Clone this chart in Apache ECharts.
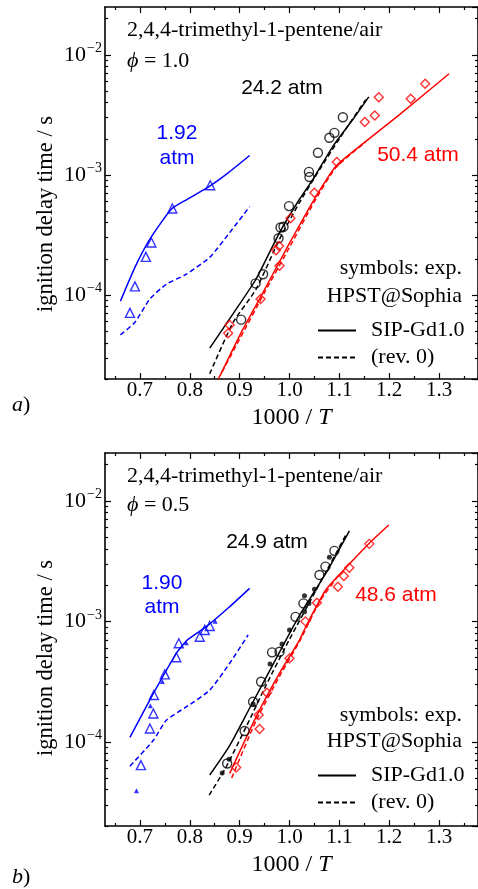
<!DOCTYPE html>
<html><head><meta charset="utf-8">
<script src="https://cdn.jsdelivr.net/npm/echarts@6/dist/echarts.min.js"></script>
<style>html,body{margin:0;padding:0;background:#fff}#c{width:478px;height:889px}</style>
</head><body><div id="c"></div>
<script>
// ---------- axis ticks ----------
const X_MAJOR = [0.7, 0.8, 0.9, 1.0, 1.1, 1.2, 1.3];
const X_MINOR = [0.65, 0.75, 0.85, 0.95, 1.05, 1.15, 1.25, 1.35];
const X_MIN = 0.63, X_MAX = 1.378;
const Y_MIN = 2e-5, Y_MAX = 0.025;

// ---------- panel a) phi = 1.0 : [1000/T, ignition delay time / s] ----------
const A_BLUE_SIP   = [[0.661,8.9e-5],[0.69,1.7e-4],[0.72,2.92e-4],[0.763,5.18e-4],[0.795,6.27e-4],[0.84,8.07e-4],[0.877,1.04e-3],[0.92,1.45e-3]];
const A_BLUE_REV0  = [[0.661,4.66e-5],[0.69,5.93e-5],[0.72,9.27e-5],[0.753,1.23e-4],[0.793,1.49e-4],[0.84,2.06e-4],[0.88,3.31e-4],[0.92,5.44e-4]];
const A_BLUE_EXP   = [[0.68,7.1e-5],[0.69,1.18e-4],[0.712,2.08e-4],[0.723,2.74e-4],[0.765,5.25e-4],[0.841,8.2e-4]];
const A_BLACK_SIP  = [[0.84,3.61e-5],[0.887,7.0e-5],[0.933,1.36e-4],[0.98,3.31e-4],[1.02,6.27e-4],[1.047,9.19e-4],[1.087,1.73e-3],[1.127,2.89e-3],[1.159,4.46e-3]];
const A_BLACK_REV0 = [[0.84,2.21e-5],[0.887,5.93e-5],[0.933,1.12e-4],[0.98,2.92e-4],[1.02,5.89e-4],[1.06,1.1e-3],[1.1,2.0e-3],[1.153,4.24e-3]];
const A_BLACK_EXP  = [[0.903,6.24e-5],[0.932,1.25e-4],[0.947,1.49e-4],[0.978,2.97e-4],[0.982,3.65e-4],[0.988,3.7e-4],[0.999,5.5e-4],[1.039,1.06e-3],[1.04,9.6e-4],[1.057,1.53e-3],[1.08,2.04e-3],[1.09,2.24e-3],[1.107,3.02e-3]];
const A_RED_SIP    = [[0.861,2.14e-5],[0.9,4.6e-5],[0.94,9.3e-5],[1.0,2.7e-4],[1.05,6.3e-4],[1.093,1.18e-3],[1.153,1.9e-3],[1.22,3.16e-3],[1.32,6.95e-3]];
const A_RED_REV0   = [[0.857,2.0e-5],[0.9,4.3e-5],[0.95,1.05e-4],[1.0,2.5e-4],[1.05,6.0e-4],[1.093,1.15e-3],[1.153,1.88e-3]];
const A_RED_EXP    = [[0.877,4.81e-5],[0.88,5.64e-5],[0.942,9.27e-5],[0.973,2.36e-4],[0.979,2.56e-4],[0.98,1.75e-4],[1.002,4.35e-4],[1.05,7.11e-4],[1.095,1.28e-3],[1.151,2.76e-3],[1.171,3.12e-3],[1.179,4.43e-3],[1.243,4.31e-3],[1.272,5.74e-3]];

// ---------- panel b) phi = 0.5 ----------
const B_BLUE_SIP    = [[0.68,1.09e-4],[0.727,2.52e-4],[0.773,5.43e-4],[0.795,7.0e-4],[0.833,9.03e-4],[0.877,1.29e-3],[0.92,1.88e-3]];
const B_BLUE_REV0   = [[0.68,6.28e-5],[0.727,1.03e-4],[0.753,1.51e-4],[0.793,1.95e-4],[0.84,2.69e-4],[0.88,4.49e-4],[0.917,7.71e-4]];
const B_BLUE_EXP    = [[0.702,6.4e-5],[0.72,1.29e-4],[0.727,1.72e-4],[0.728,2.45e-4],[0.75,3.63e-4],[0.773,5.04e-4],[0.778,6.58e-4],[0.82,7.46e-4],[0.83,8.49e-4],[0.84,9.16e-4]];
const B_BLUE_EXP2   = [[0.693,3.92e-5],[0.721,1.99e-4],[0.745,3.17e-4],[0.793,6.65e-4],[0.851,1.0e-3]];
const B_BLACK_SIP   = [[0.84,5.3e-5],[0.88,9.3e-5],[0.92,1.9e-4],[0.967,4.4e-4],[1.02,1.12e-3],[1.073,2.51e-3],[1.12,5.65e-3]];
const B_BLACK_REV0  = [[0.839,3.61e-5],[0.873,6.2e-5],[0.913,1.33e-4],[0.953,2.95e-4],[1.0,7.1e-4],[1.06,2.04e-3],[1.115,5.4e-3]];
const B_BLACK_EXP   = [[0.875,6.6e-5],[0.91,1.23e-4],[0.927,2.15e-4],[0.943,3.15e-4],[0.965,5.53e-4],[0.98,5.6e-4],[1.012,1.09e-3],[1.028,1.41e-3],[1.06,2.43e-3],[1.072,2.85e-3],[1.09,3.85e-3]];
const B_BLACK_EXP2  = [[0.865,5.52e-5],[0.879,7.18e-5],[0.927,2.06e-4],[0.961,4.42e-4],[0.985,6.49e-4],[1.0,8.49e-4],[1.03,1.2e-3],[1.03,1.63e-3],[1.039,1.41e-3],[1.05,1.85e-3],[1.08,3.41e-3]];
const B_RED_SIP     = [[0.88,5.46e-5],[0.933,1.61e-4],[0.98,3.71e-4],[1.02,7.0e-4],[1.033,9.1e-4],[1.073,1.83e-3],[1.113,2.79e-3],[1.16,4.46e-3],[1.199,6.32e-3]];
const B_RED_REV0    = [[0.884,5.0e-5],[0.933,1.5e-4],[0.98,3.5e-4],[1.02,6.8e-4],[1.06,1.45e-3],[1.1,2.45e-3]];
const B_RED_EXP     = [[0.893,6.12e-5],[0.94,1.28e-4],[0.938,1.67e-4],[0.955,2.55e-4],[1.0,4.93e-4],[1.032,1.0e-3],[1.055,1.43e-3],[1.097,1.94e-3],[1.109,2.38e-3],[1.12,2.79e-3],[1.16,4.4e-3]];

// ---------- styling ----------
const SERIF = '"Liberation Serif", "Times New Roman", "DejaVu Serif", serif';
const SANS = '"Liberation Sans", Arial, sans-serif';
const BLUE = '#0000ff', RED = '#ff0000', BLACK = '#000000';

const LOG_MIN = Math.log10(Y_MIN), LOG_MAX = Math.log10(Y_MAX);
const Y_MINOR_LOG = [];
for (let d = -5; d <= -2; d++) {
  for (let k = 2; k <= 9; k++) {
    const v = Math.log10(k) + d;
    if (v >= LOG_MIN - 1e-9 && v <= LOG_MAX) Y_MINOR_LOG.push(v);
  }
}

const tickLine = {color: BLACK, width: 1.2};
const frameLine = {color: BLACK, width: 1.6};

function xAxes(g) {
  const base = {type: 'value', gridIndex: g, min: X_MIN, max: X_MAX, splitLine: {show: false}};
  return [
    Object.assign({}, base, {
      position: 'bottom',
      axisLine: {show: true, onZero: false, lineStyle: frameLine},
      axisTick: {show: true, inside: true, length: 6, customValues: X_MAJOR, lineStyle: tickLine},
      axisLabel: {show: true, customValues: X_MAJOR, formatter: v => v.toFixed(1), margin: 1,
                  color: BLACK, fontSize: 21, fontFamily: SERIF},
      name: '1000 / {i|T}', nameLocation: 'middle', nameGap: 27,
      nameTextStyle: {color: BLACK, fontSize: 24, fontFamily: SERIF,
                      rich: {i: {fontStyle: 'italic', fontSize: 24, fontFamily: SERIF, color: BLACK}}}
    }),
    Object.assign({}, base, {
      position: 'bottom', axisLine: {show: false, onZero: false},
      axisTick: {show: true, inside: true, length: 3, customValues: X_MINOR, lineStyle: tickLine},
      axisLabel: {show: false}
    }),
    Object.assign({}, base, {
      position: 'top', axisLine: {show: true, onZero: false, lineStyle: frameLine},
      axisTick: {show: true, inside: true, length: 6, customValues: X_MAJOR, lineStyle: tickLine},
      axisLabel: {show: false}
    }),
    Object.assign({}, base, {
      position: 'top', axisLine: {show: false, onZero: false},
      axisTick: {show: true, inside: true, length: 3, customValues: X_MINOR, lineStyle: tickLine},
      axisLabel: {show: false}
    })
  ];
}

function powLabel(v) {
  const l = Math.log10(v);
  const n = Math.round(l);
  if (Math.abs(l - n) > 1e-6) return '';
  return '{b|10}{s|\u2212' + Math.abs(n) + '}';
}

function yAxes(g) {
  const logBase = {type: 'log', logBase: 10, gridIndex: g, min: Y_MIN, max: Y_MAX, splitLine: {show: false}};
  const minorBase = {type: 'value', gridIndex: g, min: LOG_MIN, max: LOG_MAX, splitLine: {show: false}};
  return [
    Object.assign({}, logBase, {
      position: 'left',
      axisLine: {show: true, onZero: false, lineStyle: frameLine},
      axisTick: {show: true, inside: true, length: 6, lineStyle: tickLine},
      axisLabel: {show: true, formatter: powLabel, margin: 3, color: BLACK, showMinLabel: false, showMaxLabel: false,
                  rich: {b: {fontSize: 22, fontFamily: SERIF, color: BLACK},
                         s: {fontSize: 14, fontFamily: SERIF, color: BLACK, padding: [0, 0, 13, 1]}}}
    }),
    Object.assign({}, minorBase, {
      position: 'left', axisLine: {show: false, onZero: false},
      axisTick: {show: true, inside: true, length: 3, customValues: Y_MINOR_LOG, lineStyle: tickLine},
      axisLabel: {show: false}
    }),
    Object.assign({}, logBase, {
      position: 'right', axisLine: {show: true, onZero: false, lineStyle: frameLine},
      axisTick: {show: true, inside: true, length: 6, lineStyle: tickLine},
      axisLabel: {show: false}
    }),
    Object.assign({}, minorBase, {
      position: 'right', axisLine: {show: false, onZero: false},
      axisTick: {show: true, inside: true, length: 3, customValues: Y_MINOR_LOG, lineStyle: tickLine},
      axisLabel: {show: false}
    })
  ];
}

function lineS(name, data, g, color, dashed) {
  return {name: name, type: 'line', xAxisIndex: 4 * g, yAxisIndex: 4 * g, data: data,
          symbol: 'none', smooth: 0.2, clip: true, silent: true, z: 2,
          lineStyle: {color: color, width: 1.5, type: dashed ? [5, 3] : 'solid'}};
}
function dotS(name, data, g, color, symbol, size, filled) {
  return {name: name, type: 'scatter', xAxisIndex: 4 * g, yAxisIndex: 4 * g, data: data,
          symbol: symbol, symbolSize: size, silent: true, z: 3,
          itemStyle: filled ? {color: color} : {color: 'rgba(255,255,255,0)', borderColor: color, borderWidth: 1.4}};
}

const series = [
  lineS('a blue SIP', A_BLUE_SIP, 0, BLUE, false),
  lineS('a blue rev0', A_BLUE_REV0, 0, BLUE, true),
  lineS('a black SIP', A_BLACK_SIP, 0, BLACK, false),
  lineS('a black rev0', A_BLACK_REV0, 0, BLACK, true),
  lineS('a red SIP', A_RED_SIP, 0, RED, false),
  lineS('a red rev0', A_RED_REV0, 0, RED, true),
  dotS('a blue exp', A_BLUE_EXP, 0, BLUE, 'triangle', 9, false),
  dotS('a black exp', A_BLACK_EXP, 0, BLACK, 'circle', 9, false),
  dotS('a red exp', A_RED_EXP, 0, RED, 'diamond', 9, false),

  lineS('b blue SIP', B_BLUE_SIP, 1, BLUE, false),
  lineS('b blue rev0', B_BLUE_REV0, 1, BLUE, true),
  lineS('b black SIP', B_BLACK_SIP, 1, BLACK, false),
  lineS('b black rev0', B_BLACK_REV0, 1, BLACK, true),
  lineS('b red SIP', B_RED_SIP, 1, RED, false),
  lineS('b red rev0', B_RED_REV0, 1, RED, true),
  dotS('b blue exp', B_BLUE_EXP, 1, BLUE, 'triangle', 9, false),
  dotS('b blue exp2', B_BLUE_EXP2, 1, BLUE, 'triangle', 5, true),
  dotS('b black exp', B_BLACK_EXP, 1, BLACK, 'circle', 9, false),
  dotS('b black exp2', B_BLACK_EXP2, 1, BLACK, 'circle', 5, true),
  dotS('b red exp', B_RED_EXP, 1, RED, 'diamond', 9, false),

  // legend keys (no data)
  {name: 'SIP-Gd1.0', type: 'line', xAxisIndex: 0, yAxisIndex: 0, data: [], symbol: 'none', showSymbol: false,
   itemStyle: {color: 'rgba(0,0,0,0)', borderWidth: 0},
   lineStyle: {color: BLACK, width: 1.5, type: 'solid'}},
  {name: '(rev. 0)', type: 'line', xAxisIndex: 0, yAxisIndex: 0, data: [], symbol: 'none', showSymbol: false,
   itemStyle: {color: 'rgba(0,0,0,0)', borderWidth: 0},
   lineStyle: {color: BLACK, width: 1.5, type: [5, 3]}}
];

function legendAt(top) {
  return {data: ['SIP-Gd1.0', '(rev. 0)'], orient: 'vertical', left: 317, top: top,
          itemWidth: 38, itemHeight: 10, itemGap: 0, padding: 0, selectedMode: false,
          itemStyle: {color: 'rgba(0,0,0,0)', borderWidth: 0, opacity: 0},
          textStyle: {fontSize: 22, fontFamily: SERIF, color: BLACK, lineHeight: 27, padding: [0, 0, 0, 10]}};
}

function txt(x, y, text, opts) {
  const o = opts || {};
  return {type: 'text', x: x, y: y, rotation: o.rotation || 0, silent: true,
          style: {text: text, fill: o.color || BLACK, fontSize: o.size || 22, fontFamily: o.family || SERIF,
                  fontStyle: o.italic ? 'italic' : 'normal', align: o.align || 'left', verticalAlign: 'middle',
                  rich: {i: {fontStyle: 'italic', fontSize: o.size || 22, fontFamily: SERIF, fill: BLACK}}}};
}

const graphics = [
  txt(46, 214, 'ignition delay time / s', {size: 22.5, align: 'center', rotation: Math.PI / 2}),
  txt(127, 30, '2,4,4-trimethyl-1-pentene/air'),
  txt(127, 61, '{i|\u03D5} = 1.0'),
  txt(282, 88, '24.2 atm', {family: SANS, size: 21, align: 'center'}),
  txt(177, 133, '1.92', {family: SANS, size: 21, align: 'center', color: BLUE}),
  txt(177, 158, 'atm', {family: SANS, size: 21, align: 'center', color: BLUE}),
  txt(418, 155, '50.4 atm', {family: SANS, size: 21, align: 'center', color: RED}),
  txt(462, 268, 'symbols: exp.', {align: 'right'}),
  txt(462, 296, 'HPST@Sophia', {align: 'right'}),
  txt(12, 405, '{i|a})'),

  txt(46, 658, 'ignition delay time / s', {size: 22.5, align: 'center', rotation: Math.PI / 2}),
  txt(127, 476, '2,4,4-trimethyl-1-pentene/air'),
  txt(127, 505, '{i|\u03D5} = 0.5'),
  txt(267, 542, '24.9 atm', {family: SANS, size: 21, align: 'center'}),
  txt(162, 583, '1.90', {family: SANS, size: 21, align: 'center', color: BLUE}),
  txt(162, 607, 'atm', {family: SANS, size: 21, align: 'center', color: BLUE}),
  txt(396, 595, '48.6 atm', {family: SANS, size: 21, align: 'center', color: RED}),
  txt(462, 715, 'symbols: exp.', {align: 'right'}),
  txt(462, 741, 'HPST@Sophia', {align: 'right'}),
  txt(12, 877, '{i|b})')
];

const chart = echarts.init(document.getElementById('c'), null, {renderer: 'canvas'});
chart.setOption({
  animation: false,
  backgroundColor: '#ffffff',
  grid: [
    {left: 105, top: 7, width: 374, height: 372},
    {left: 105, top: 453, width: 374, height: 373}
  ],
  xAxis: xAxes(0).concat(xAxes(1)),
  yAxis: yAxes(0).concat(yAxes(1)),
  legend: [legendAt(317), legendAt(762)],
  series: series,
  graphic: graphics
});
</script></body></html>
